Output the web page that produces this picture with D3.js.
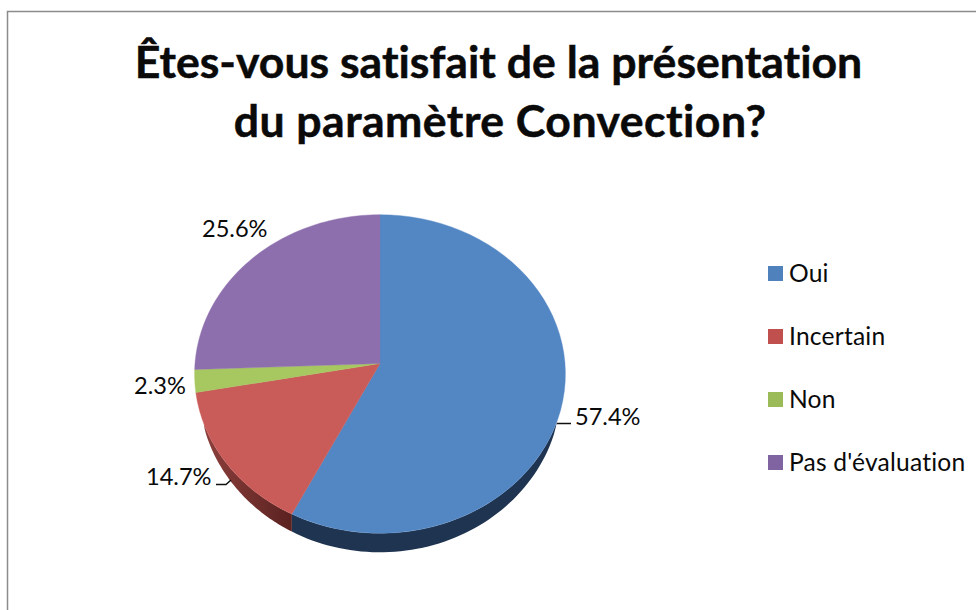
<!DOCTYPE html>
<html><head><meta charset="utf-8">
<script src="https://cdn.jsdelivr.net/npm/d3@7"></script>
<style>html,body{margin:0;padding:0;background:#fff;overflow:hidden}svg{display:block}text{font-family:Lato,"Open Sans",sans-serif;fill:#0a0a0a;font-variant-ligatures:none}</style>
</head><body><svg id="c" width="976" height="610"></svg>
<script>
const titleLines = ["Êtes-vous satisfait de la présentation", "du paramètre Convection?"];
const categories = ["Oui", "Incertain", "Non", "Pas d'évaluation"];
const values = [57.4, 14.7, 2.3, 25.6];
const labels = ["57.4%", "14.7%", "2.3%", "25.6%"];
const topColors = ["#5387c4", "#c95b59", "#a7c761", "#8e6fad"];
const legendColors = ["#4f81bd", "#c0504d", "#9bbb59", "#8064a2"];

const svg = d3.select("#c");
// frame
svg.append("path").attr("d","M7.5,610V11.5H976").attr("fill","none").attr("stroke","#8c8c8c").attr("stroke-width",1.5);

// title
svg.selectAll("text.t").data(titleLines).join("text").attr("class","t")
  .attr("x",(d,i)=>[498.5,500][i]).attr("y",(d,i)=>[78,137][i]).attr("text-anchor","middle")
  .attr("letter-spacing",(d,i)=>[0,0.45][i])
  .attr("font-size",44.6).attr("font-weight",700).attr("stroke","#0a0a0a").attr("stroke-width",0.5).text(d=>d);

// perspective projection of the pie disc
const cx=380, cy=363.5, k=0.0658, a=158.6, b=185, depth=19;
const proj=(t,dy=0)=>{const s=Math.sin(t),c=Math.cos(t),w=1+k*c;return [cx+b*s/w, cy-a*c/w+dy];};
// wall height fades out towards the sides of the disc
const wall=t=>depth*Math.pow(Math.max(0,(-Math.cos(t)-0.37)/0.63),0.45);
const line=d3.line();
const arcs=d3.pie().sort(null)(values);
const samples=(t0,t1)=>d3.range(0,61).map(i=>t0+(t1-t0)*i/60);

const defs=svg.append("defs");
const sideGrad=(id,c0,c1,x1,x2)=>{const g=defs.append("linearGradient").attr("id",id).attr("gradientUnits","userSpaceOnUse")
  .attr("x1",x1).attr("x2",x2).attr("y1",0).attr("y2",0);
  g.append("stop").attr("offset",0).attr("stop-color",c0);g.append("stop").attr("offset",1).attr("stop-color",c1);};
sideGrad("sideRed","#8c3f3c","#5a2220",205,292);
sideGrad("sideBlue","#1f3450","#1f3450",292,566);

// side wall, only the front part
const front=[[arcs[0],"url(#sideBlue)"],[arcs[1],"url(#sideRed)"]];
front.forEach(([d,fill])=>{
  const t0=Math.max(d.startAngle,1.9), t1=Math.min(d.endAngle,4.4);
  const ts=samples(t0,t1);
  const pts=ts.map(t=>proj(t)).concat(ts.slice().reverse().map(t=>proj(t,wall(t))));
  svg.append("path").attr("d",line(pts)+"Z").attr("fill",fill);
});

// top faces
arcs.forEach((d,i)=>{
  const pts=[[cx,cy]].concat(samples(d.startAngle,d.endAngle).map(t=>proj(t)));
  svg.append("path").attr("d",line(pts)+"Z").attr("fill",topColors[i]).attr("stroke",topColors[i]).attr("stroke-width",0.4);
});

// data labels and leader lines
const labelPos=[[575,425],[146,485],[134,394],[202,237]];
svg.selectAll("text.l").data(labels).join("text").attr("class","l")
  .attr("x",(d,i)=>labelPos[i][0]).attr("y",(d,i)=>labelPos[i][1]).attr("font-size",23.6).text(d=>d);
svg.append("path").attr("d","M557,423.5H571").attr("stroke","#111").attr("stroke-width",1.5).attr("fill","none");
svg.append("path").attr("d","M216,484.5H226L231,480").attr("stroke","#111").attr("stroke-width",1.5).attr("fill","none");

// legend
const legendY=d3.scalePoint().domain(categories).range([273.5,462.5]);
const lg=svg.selectAll("g.lg").data(categories).join("g").attr("class","lg").attr("transform",d=>`translate(768,${legendY(d)})`);
lg.append("rect").attr("y",-7.5).attr("width",15).attr("height",15).attr("fill",(d,i)=>legendColors[i]);
lg.append("text").attr("x",21).attr("y",8).attr("font-size",24.6).attr("letter-spacing",0.2).text(d=>d);
</script></body></html>
